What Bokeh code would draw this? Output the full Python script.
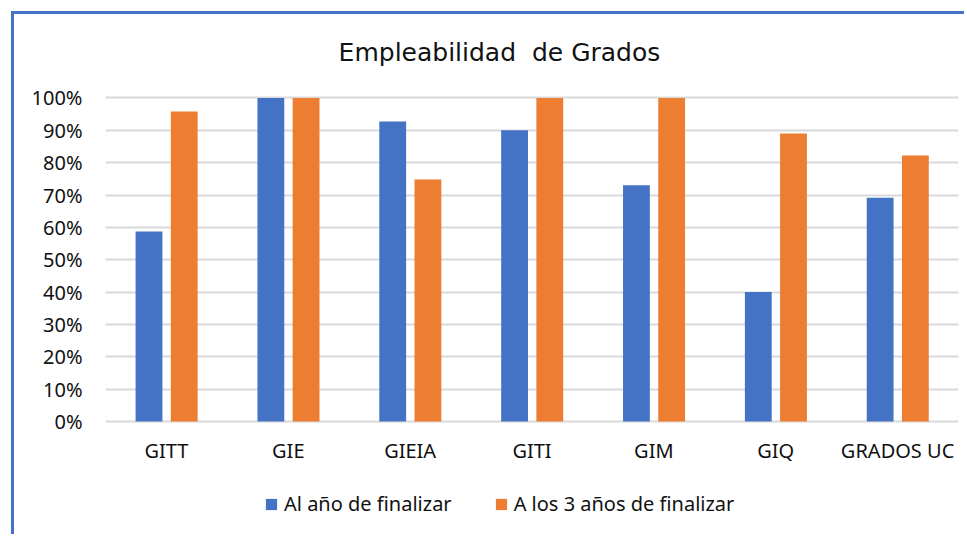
from bokeh.plotting import figure
from bokeh.models import (FactorRange, Range1d, Legend, LegendItem, Label,
                          NumeralTickFormatter, FixedTicker, ColumnDataSource)
from bokeh.core.properties import value
from bokeh.transform import dodge
from bokeh.embed import file_html
from bokeh.resources import INLINE

categories = ["GITT", "GIE", "GIEIA", "GITI", "GIM", "GIQ", "GRADOS UC"]
al_ano = [0.587, 1.0, 0.927, 0.90, 0.73, 0.40, 0.692]
a_3_anos = [0.958, 1.0, 0.748, 1.0, 1.0, 0.89, 0.822]
series_names = ["Al año de finalizar", "A los 3 años de finalizar"]
y_ticks = [0.0, 0.1, 0.2, 0.3, 0.4, 0.5, 0.6, 0.7, 0.8, 0.9, 1.0]
title_text = "Empleabilidad\u00a0 de Grados"

BLUE = "#4472C4"
ORANGE = "#ED7D31"
FONT = "Noto Sans"
TXT = "#111111"
LABEL_Y = -0.09          # category names sit below the 0% line
TITLE_X, TITLE_Y = 3.233, 1.1406

src = ColumnDataSource(dict(cat=categories, al=al_ano, tres=a_3_anos,
                            ly=[LABEL_Y] * len(categories)))

p = figure(x_range=FactorRange(factors=categories, range_padding=0),
           y_range=Range1d(-0.3586, 1.2581),
           width=953, height=523, output_backend="svg", toolbar_location=None,
           min_border_left=91, min_border_right=9, min_border_top=0,
           min_border_bottom=0,
           styles={"border-left": "3px solid " + BLUE,
                   "border-top": "3px solid " + BLUE,
                   "margin-left": "11px", "margin-top": "11px"})

p.outline_line_color = None
p.background_fill_color = "white"
p.border_fill_color = "white"

r1 = p.vbar(x=dodge("cat", -0.143, range=p.x_range), top="al", width=0.22,
            source=src, fill_color=BLUE, line_color=None)
r2 = p.vbar(x=dodge("cat", 0.146, range=p.x_range), top="tres", width=0.22,
            source=src, fill_color=ORANGE, line_color=None)

# category names under the bars
p.text(x="cat", y="ly", text="cat", source=src, text_align="center",
       text_baseline="middle", text_font=value(FONT), text_font_size="20px",
       text_color=TXT)

# chart title
p.add_layout(Label(x=TITLE_X, y=TITLE_Y, text=title_text, text_align="center",
                   text_baseline="middle", text_font="DejaVu Sans",
                   text_font_size="25px", text_color=TXT))

p.xgrid.grid_line_color = None
p.ygrid.ticker = FixedTicker(ticks=y_ticks)
p.ygrid.grid_line_color = "#D9D9D9"
p.ygrid.grid_line_width = 2
p.xaxis.visible = False

yax = p.yaxis[0]
yax.ticker = FixedTicker(ticks=y_ticks)
yax.formatter = NumeralTickFormatter(format="0%")
yax.axis_line_color = None
yax.major_tick_line_color = None
yax.minor_tick_line_color = None
yax.major_label_text_font = FONT
yax.major_label_text_font_size = "20px"
yax.major_label_text_color = TXT
yax.major_label_standoff = 17

legend = Legend(items=[LegendItem(label=series_names[0], renderers=[r1]),
                       LegendItem(label=series_names[1], renderers=[r2])],
                location=(159, 20), orientation="horizontal",
                label_text_font=FONT, label_text_font_size="20px",
                label_text_color=TXT, glyph_width=14, glyph_height=14,
                label_standoff=6, spacing=42, padding=0, margin=0,
                border_line_color=None, background_fill_alpha=0)
p.add_layout(legend, "center")

open("out.html", "w").write(file_html(p, INLINE))
